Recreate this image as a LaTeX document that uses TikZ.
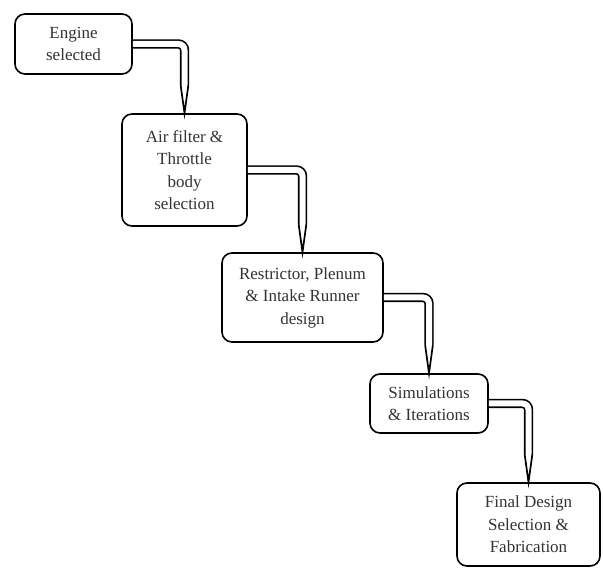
\documentclass[tikz,border=0pt]{standalone}
\usepackage{fontspec}
\setmainfont{Liberation Serif}
\usetikzlibrary{calc}

\tikzset{
    stagebox/.style={draw=black, line width=1.6pt, rounded corners=10pt, fill=white,
        align=center, inner sep=0pt, text=black!80,
        font=\fontsize{17}{22.5}\selectfont},
    pipe/.style={draw=black, line width=1.7pt, double=white, double distance=6pt,
        rounded corners=6pt},
    pipetip/.style={draw=black, line width=1.7pt, fill=white, line join=miter}
}

\begin{document}
\begin{tikzpicture}[x=1pt, y=-1pt]
    \useasboundingbox (0,0) rectangle (603,569);

    % Stages of the intake design
    \node[stagebox, minimum width=117pt, minimum height=60pt] (engine) at (73.5,44) {Engine\\selected};
    \node[stagebox, minimum width=125pt, minimum height=112pt] (filter) at (184.5,170) {Air filter \&\\Throttle\\body\\selection};
    \node[stagebox, minimum width=161pt, minimum height=89pt] (plenum) at (302.5,297.5) {Restrictor, Plenum\\\& Intake Runner\\design};
    \node[stagebox, minimum width=118pt, minimum height=59pt] (sims) at (429,403.5) {Simulations\\\& Iterations};
    \node[stagebox, minimum width=143pt, minimum height=83pt] (final) at (528.5,524.5) {Final Design\\Selection \&\\Fabrication};

    % Hollow pipe arrows between the stages
    \foreach \a/\b in {engine/filter, filter/plenum, plenum/sims, sims/final} {
        \coordinate (\a-end) at ($(\b.north)+(0,-28)$);
        \draw[pipe] (\a.east) -| (\a-end);
        \draw[pipetip] ($(\a-end)+(-3.85,0)$) -- (\b.north) -- ($(\a-end)+(3.85,0)$);
    }
\end{tikzpicture}
\end{document}
